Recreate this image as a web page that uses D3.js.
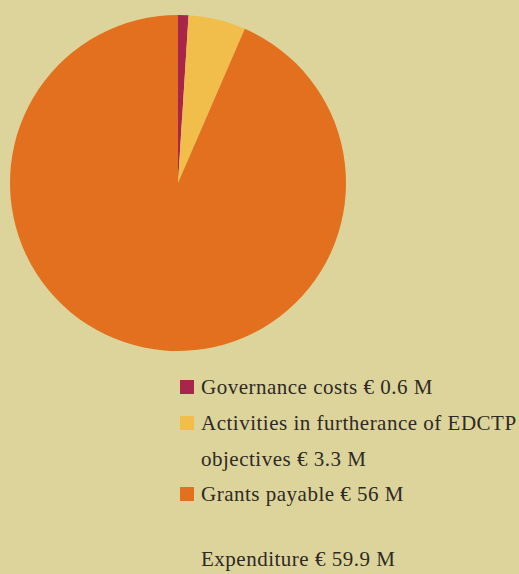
<!DOCTYPE html>
<html>
<head>
<meta charset="utf-8">
<script src="https://cdn.jsdelivr.net/npm/d3@7"></script>
<style>
  html, body { margin: 0; padding: 0; background: #DCD49A; }
  svg { display: block; }
  text { font-family: "Liberation Serif", "DejaVu Serif", serif; fill: #2E2A25; letter-spacing: 0.5px; }
</style>
</head>
<body>
<svg id="chart" width="519" height="574"></svg>
<script>
// Expenditure breakdown (EUR millions)
const categories = ["Governance costs", "Activities in furtherance of EDCTP objectives", "Grants payable"];
const values = [0.6, 3.3, 56];
const colors = ["#A8264A", "#F1BE4B", "#E3701F"];
const legendLines = [
  ["Governance costs € 0.6 M"],
  ["Activities in furtherance of EDCTP", "objectives € 3.3 M"],
  ["Grants payable € 56 M"]
];
const totalLabel = "Expenditure € 59.9 M";

const svg = d3.select("#chart");

const cx = 178, cy = 183, radius = 168;
const pie = d3.pie().sort(null).value(d => d.value);
const arc = d3.arc().innerRadius(0).outerRadius(radius);
const data = categories.map((c, i) => ({ name: c, value: values[i], color: colors[i] }));

svg.append("g")
  .attr("transform", `translate(${cx},${cy})`)
  .selectAll("path")
  .data(pie(data))
  .join("path")
  .attr("d", arc)
  .attr("fill", d => d.data.color);

// Legend
const legend = svg.append("g").attr("transform", "translate(180,0)");
const rowY = [387, 423, 494];
const lineGap = 36;
const fontSize = 21;
data.forEach((d, i) => {
  legend.append("rect")
    .attr("x", 0).attr("y", rowY[i] - 7)
    .attr("width", 14).attr("height", 14)
    .attr("fill", d.color);
  legendLines[i].forEach((line, j) => {
    legend.append("text")
      .attr("x", 21).attr("y", rowY[i] + j * lineGap + 7)
      .attr("font-size", fontSize)
      .text(line);
  });
});

svg.append("text")
  .attr("x", 201).attr("y", 566)
  .attr("font-size", fontSize)
  .text(totalLabel);
</script>
</body>
</html>
